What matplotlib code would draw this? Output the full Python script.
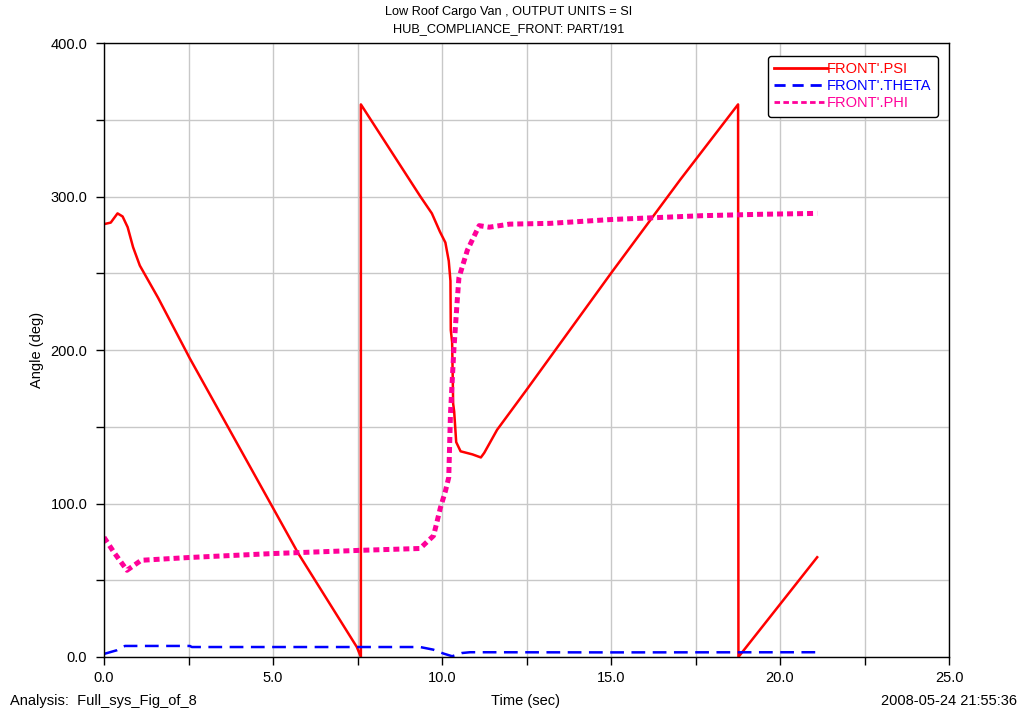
import numpy as np
import matplotlib.pyplot as plt
from matplotlib.lines import Line2D
from matplotlib.ticker import MultipleLocator, FuncFormatter

plt.rcParams['font.family'] = ['Liberation Sans', 'DejaVu Sans']

# FRONT'.PSI (wraps from 0 to 360)
t_psi = [0.0, 0.2, 0.4, 0.55, 0.7, 0.86, 1.06, 1.6, 2.54, 5.01, 5.75, 7.48, 7.6,
         7.6, 9.36, 9.7, 9.94, 10.1, 10.2, 10.25, 10.26, 10.3, 10.33, 10.36, 10.42,
         10.55, 10.9, 11.15, 11.25, 11.63, 12.5, 15.0, 17.05, 18.76,
         18.77, 21.1]
psi = [282, 283, 289, 287, 280, 267, 255, 234, 194.5, 96.7, 67.4, 6.5, 0,
       360, 300, 289, 277, 270, 258, 245, 213, 205, 165, 160, 140,
       134, 132, 130, 133, 148, 174, 250, 311, 360,
       0, 65]

# FRONT'.THETA
t_theta = [0.0, 0.38, 0.62, 2.54, 2.6, 5.0, 9.35, 9.74, 10.05, 10.3, 10.59, 10.83, 15.0, 21.1]
theta = [2.0, 4.4, 7.2, 7.2, 6.5, 6.5, 6.5, 4.8, 2.2, 0.5, 2.6, 3.1, 3.0, 3.1]

# FRONT'.PHI
t_phi = [0.0, 0.3, 0.68, 1.1, 2.5, 5.0, 7.6, 9.35, 9.75, 9.84, 9.95, 10.1, 10.2, 10.25,
         10.35, 10.45, 10.5, 10.75, 11.1, 11.4, 12.0, 13.2, 15.0, 17.7, 19.4, 21.1]
phi = [78, 68, 56.5, 63, 64.8, 67.4, 69.5, 70.7, 79, 87, 97, 108, 117, 158,
       200, 232, 247, 265, 281, 280, 282, 282.5, 285, 287.5, 288.4, 289]

labels = ["FRONT'.PSI", "FRONT'.THETA", "FRONT'.PHI"]
colors = ['#ff0000', '#0000ff', '#ff0099']

fig = plt.figure(figsize=(10.21, 7.16), dpi=100)
ax = fig.add_axes([104 / 1021, 59 / 716, 845 / 1021, 614 / 716])

ax.plot(t_psi, psi, color=colors[0], lw=1.8)
ax.plot(t_theta, theta, color=colors[1], lw=1.8, dashes=(5.5, 3), dash_capstyle='butt')
ax.plot(t_phi, phi, color=colors[2], lw=3.6, dashes=(1.2, 0.8), dash_capstyle='butt')

ax.set_xlim(0, 25)
ax.set_ylim(0, 400)
ax.xaxis.set_major_locator(MultipleLocator(2.5))
ax.yaxis.set_major_locator(MultipleLocator(50))
ax.xaxis.set_major_formatter(FuncFormatter(lambda v, p: f'{v:.1f}' if abs(v % 5) < 1e-6 else ''))
ax.yaxis.set_major_formatter(FuncFormatter(lambda v, p: f'{v:.1f}' if abs(v % 100) < 1e-6 else ''))
ax.tick_params(direction='out', length=6, width=1, labelsize=10.5)
ax.tick_params(axis='y', pad=6)
ax.tick_params(axis='x', pad=4)
ax.grid(True, color='#c8c8c8', lw=1)
ax.set_axisbelow(True)
for s in ax.spines.values():
    s.set_linewidth(1)

ax.set_ylabel('Angle (deg)', fontsize=10.5, labelpad=5)

# legend samples are drawn thinner than the plotted lines
handles = [Line2D([], [], color=colors[0], lw=2),
           Line2D([], [], color=colors[1], lw=2, dashes=(4, 2.5), dash_capstyle='butt'),
           Line2D([], [], color=colors[2], lw=2, dashes=(2, 1.2), dash_capstyle='butt')]
leg = ax.legend(handles, labels, loc='upper right', bbox_to_anchor=(0.987, 0.979),
                borderaxespad=0, fontsize=10.5, handlelength=3.6, handletextpad=0,
                labelcolor=colors, fancybox=True, edgecolor='black', framealpha=1,
                labelspacing=0.2, borderpad=0.45)
leg.get_frame().set_linewidth(1)

fig.text(0.498, 1 - 12 / 716, 'Low Roof Cargo Van , OUTPUT UNITS = SI', ha='center', va='center', fontsize=9.2)
fig.text(0.498, 1 - 29 / 716, 'HUB_COMPLIANCE_FRONT: PART/191', ha='center', va='center', fontsize=9.2)
fig.text(10 / 1021, 1 - 701 / 716, 'Analysis:  Full_sys_Fig_of_8', ha='left', va='center', fontsize=10.5)
fig.text(525 / 1021, 1 - 701 / 716, 'Time (sec)', ha='center', va='center', fontsize=10.5)
fig.text(1017 / 1021, 1 - 701 / 716, '2008-05-24 21:55:36', ha='right', va='center', fontsize=10.5)

fig.savefig('out.png', dpi=100)
